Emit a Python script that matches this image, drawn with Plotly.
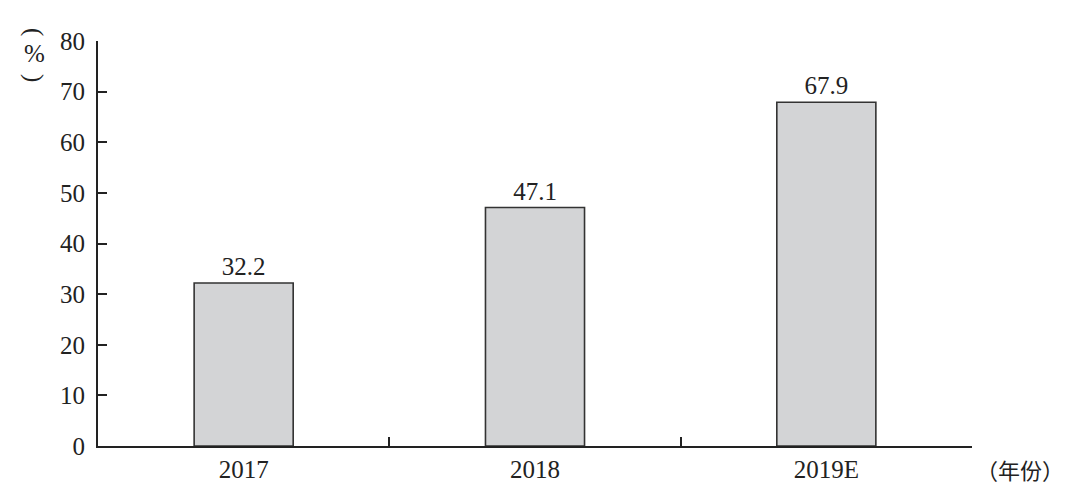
import plotly.graph_objects as go

categories = ["2017", "2018", "2019E"]
values = [32.2, 47.1, 67.9]
labels = ["32.2", "47.1", "67.9"]
y_ticks = [0, 10, 20, 30, 40, 50, 60, 70, 80]

serif = "Liberation Serif, Times New Roman, serif"
cjk = "Noto Sans CJK SC, sans-serif"
ink = "#222"
fs = 25

fig = go.Figure()
fig.add_trace(go.Bar(
    x=categories, y=values, text=labels, textposition="outside",
    textfont=dict(family=serif, size=fs, color=ink),
    marker=dict(color="#d3d4d6", line=dict(color="#333", width=1.6)),
    width=0.34, cliponaxis=False,
))

# page body has an 8px default margin; figure sized/margined to compensate
fig.update_layout(
    width=1072, height=490,
    margin=dict(l=90, r=108, t=33, b=52),
    plot_bgcolor="white", paper_bgcolor="white",
    showlegend=False,
    font=dict(family=serif, size=fs, color=ink),
)
fig.update_xaxes(
    type="category", range=[-0.5, 2.5],
    showline=True, linecolor=ink, linewidth=2,
    ticks="inside", tickson="boundaries", ticklen=9, tickwidth=2, tickcolor=ink,
    showgrid=False, tickfont=dict(family=serif, size=fs, color=ink),
)
fig.update_yaxes(
    range=[0, 80], tickvals=y_ticks,
    showline=True, linecolor=ink, linewidth=2,
    ticks="inside", ticklen=9, tickwidth=2, tickcolor=ink,
    showgrid=False, zeroline=False, ticklabelstandoff=6,
    tickfont=dict(family=serif, size=fs, color=ink),
)
# vertical "(%)" with rotated parentheses
for txt, ys, ang in [("(", 9, 90), ("%", -12, 0), (")", -37, 90)]:
    fig.add_annotation(
        text=txt, xref="paper", yref="paper", x=0, y=1,
        xshift=-64, yshift=ys, textangle=ang,
        xanchor="center", yanchor="middle", showarrow=False,
        font=dict(family=serif, size=25, color=ink),
    )
fig.add_annotation(
    text="（年份）", xref="paper", yref="paper", x=1, y=0,
    xshift=2, yshift=-5,
    xanchor="left", yanchor="top", showarrow=False,
    font=dict(family=cjk, size=22, color=ink),
)
fig.write_html("out.html")
